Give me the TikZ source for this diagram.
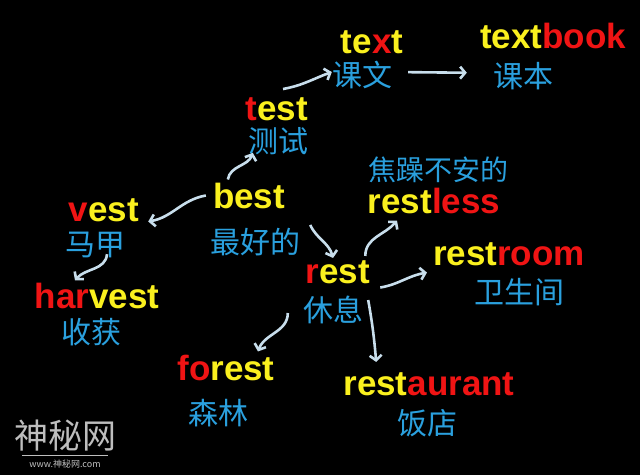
\documentclass[tikz,border=0pt]{standalone}
\usepackage{fontspec}
\setmainfont{Liberation Sans}
\newfontfamily\cjk{Noto Sans CJK SC}
\usetikzlibrary{positioning,arrows.meta}

\definecolor{wordyellow}{RGB}{250,240,30}
\definecolor{wordred}{RGB}{240,20,20}
\definecolor{cnblue}{RGB}{42,160,222}
\definecolor{linkc}{RGB}{200,222,236}
\definecolor{markgray}{RGB}{190,190,190}
\newcommand{\yw}[1]{\textcolor{wordyellow}{#1}}
\newcommand{\rd}[1]{\textcolor{wordred}{#1}}

\begin{document}
\begin{tikzpicture}[x=1pt,y=1pt,
	en/.style={font=\fontsize{35}{35}\selectfont\bfseries,inner sep=0pt,anchor=base},
	cn/.style={font=\cjk\fontsize{30}{30}\selectfont,text=cnblue,inner sep=0pt,yshift=-3pt},
	link/.style={draw=linkc,line width=2.6pt,-{Straight Barb[length=5pt,width=12pt]}}]
	\fill[black] (0,0) rectangle (640,-475);
	\useasboundingbox (0,0) rectangle (640,-475);
	% words
	\node[en] (text) at (372,-53) {\yw{te}\rd{x}\yw{t}};
	\node[cn] (textcn) at (362,-72) {课文};
	\node[en] (textbook) at (553,-48) {\yw{text}\rd{book}};
	\node[cn] (textbookcn) at (523,-73) {课本};
	\node[en] (test) at (277,-120) {\rd{t}\yw{est}};
	\node[cn] (testcn) at (278,-138) {测试};
	\node[en] (best) at (249,-208) {\yw{best}};
	\node[cn] (bestcn) at (255,-239) {最好的};
	\node[en] (vest) at (104,-221) {\rd{v}\yw{est}};
	\node[cn] (vestcn) at (95,-242) {马甲};
	\node[en] (harvest) at (97,-308) {\rd{har}\yw{vest}};
	\node[cn] (harvestcn) at (91,-329) {收获};
	\node[en] (rest) at (338,-283) {\rd{r}\yw{est}};
	\node[cn] (restcn) at (333,-307) {休息};
	\node[cn,font=\cjk\fontsize{28}{28}\selectfont] (restlesscn) at (438,-167) {焦躁不安的};
	\node[en] (restless) at (434,-213) {\yw{rest}\rd{less}};
	\node[en] (restroom) at (509,-265) {\yw{rest}\rd{room}};
	\node[cn] (restroomcn) at (519,-289) {卫生间};
	\node[en] (forest) at (226,-380) {\rd{fo}\yw{rest}};
	\node[cn] (forestcn) at (218,-410) {森林};
	\node[en] (restaurant) at (429,-395) {\yw{rest}\rd{aurant}};
	\node[cn] (restaurantcn) at (427,-420) {饭店};
	% links
	\draw[link] ([shift={(6pt,8pt)}]test.north) to[out=10,in=200] ([yshift=3pt]textcn.west);
	\draw[link,shorten <=16pt,shorten >=26pt] ([yshift=3pt]textcn.east) -- ([yshift=3pt]textbookcn.west);
	\draw[link] ([shift={(15pt,3pt)}]best.north west) to[out=80,in=250] ([shift={(5pt,2pt)}]testcn.south west);
	\draw[link] ([xshift=-7pt]best.west) to[out=190,in=10] ([xshift=9pt]vest.south east);
	\draw[link] ([shift={(12pt,4pt)}]vestcn.south) to[out=265,in=50] ([xshift=-22pt,yshift=2pt]harvest.north);
	\draw[link] ([xshift=10pt,yshift=3pt]bestcn.north east) to[out=-65,in=105] ([xshift=-5pt,yshift=2pt]rest.north);
	\draw[link] ([shift={(-5pt,4pt)}]rest.north east) to[out=90,in=230] ([shift={(-37pt,-7pt)}]restless.south);
	\draw[link] ([shift={(10pt,-4pt)}]rest.south east) to[out=10,in=190] ([shift={(-6pt,-7pt)}]restroom.south west);
	\draw[link] ([shift={(5pt,10pt)}]restcn.east) to[out=-80,in=95] ([shift={(33pt,10pt)}]restaurant.north west);
	\draw[link] ([shift={(-15pt,-3pt)}]restcn.west) to[out=-90,in=70] ([shift={(32pt,3pt)}]forest.north);
	% mark
	\node[font=\cjk\fontsize{34}{34}\selectfont,text=markgray,inner sep=0pt] (mark) at (65,-436) {神秘网};
	\node[font=\cjk\fontsize{9}{9}\selectfont,text=markgray,inner sep=0pt] (markurl) at (65,-464) {www.神秘网.com};
	\draw[markgray,line width=0.8pt] ([shift={(-7pt,4pt)}]markurl.north west) -- ([shift={(7pt,4pt)}]markurl.north east);
\end{tikzpicture}
\end{document}
